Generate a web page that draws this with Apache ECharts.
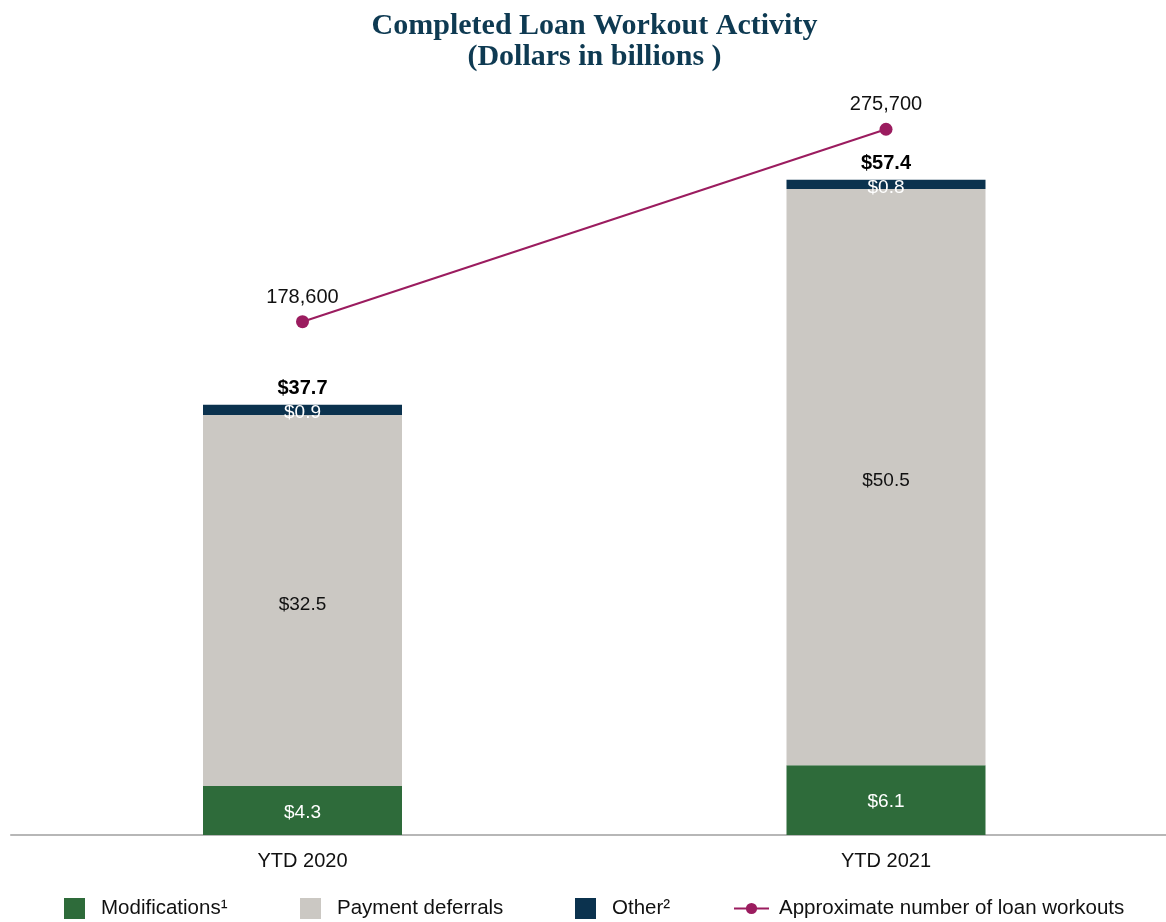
<!DOCTYPE html>
<html>
<head>
<meta charset="utf-8">
<script src="https://cdn.jsdelivr.net/npm/echarts@6/dist/echarts.min.js"></script>
<style>
  html, body { margin: 0; padding: 0; background: #fff; }
  #chart { width: 1166px; height: 922px; }
</style>
</head>
<body>
<div id="chart"></div>
<script>
var categories = ['YTD 2020', 'YTD 2021'];
var modifications = [4.3, 6.1];
var deferrals = [32.5, 50.5];
var other = [0.9, 0.8];
var totals = [37.7, 57.4];
var workouts = [178600, 275700];

var myChart = echarts.init(document.getElementById('chart'));
var font = 'Liberation Sans, Arial, sans-serif';

var option = {
  animation: false,
  title: {
    text: 'Completed Loan Workout Activity\n(Dollars in billions )',
    left: 594.5,
    textAlign: 'center',
    top: 11,
    padding: 0,
    textStyle: {
      fontFamily: 'Liberation Serif, Times New Roman, serif',
      fontWeight: 'bold',
      fontSize: 30,
      lineHeight: 31,
      color: '#0e3a52',
    },
  },
  legend: [
    { data: ['Modifications¹'], left: 64, icon: 'rect', gap: 11 },
    { data: ['Payment deferrals'], left: 300, icon: 'rect', gap: 11 },
    { data: ['Other²'], left: 575, icon: 'rect', gap: 11 },
    { data: ['Approximate number of loan workouts'], left: 733, itemWidth: 35, itemHeight: 14, gap: 5 },
  ].map(function (l) {
    var gap = l.gap;
    delete l.gap;
    return Object.assign({
      top: 898,
      padding: 0,
      itemWidth: 21,
      itemHeight: 21,
      textStyle: { fontFamily: font, fontSize: 20.5, color: '#111', padding: [0, 0, 0, gap] },
    }, l);
  }),
  grid: {
    left: 10.75,
    width: 1167,
    top: 93,
    bottom: 87,
    outerBoundsMode: 'none',
  },
  xAxis: {
    type: 'category',
    data: categories,
    axisLine: { lineStyle: { color: '#a0a0a0', width: 1.5 } },
    axisTick: { show: false },
    axisLabel: { fontFamily: font, fontSize: 20, color: '#111', margin: 16 },
  },
  yAxis: [
    { type: 'value', min: 0, max: 65, show: false, splitLine: { show: false } },
    { type: 'value', min: -80400, max: 294000, show: false, splitLine: { show: false } },
  ],
  series: [
    {
      name: 'Modifications¹',
      type: 'bar',
      stack: 'total',
      barWidth: 199,
      barGap: '-100%',
      data: modifications,
      itemStyle: { color: '#2e6b3a' },
      label: {
        show: true,
        position: 'inside',
        offset: [0, 2],
        fontFamily: font,
        fontSize: 19,
        color: '#fff',
        formatter: function (p) { return '$' + p.value.toFixed(1); },
      },
    },
    {
      name: 'Payment deferrals',
      type: 'bar',
      stack: 'total',
      barWidth: 199,
      barGap: '-100%',
      data: deferrals,
      itemStyle: { color: '#cbc8c3' },
      label: {
        show: true,
        position: 'inside',
        offset: [0, 4],
        fontFamily: font,
        fontSize: 19,
        color: '#111',
        formatter: function (p) { return '$' + p.value.toFixed(1); },
      },
    },
    {
      name: 'Other²',
      type: 'bar',
      stack: 'total',
      barWidth: 199,
      barGap: '-100%',
      data: other,
      itemStyle: { color: '#0b324e' },
      label: {
        show: true,
        position: 'inside',
        offset: [0, 3],
        fontFamily: font,
        fontSize: 19,
        color: '#fff',
        formatter: function (p) { return '$' + p.value.toFixed(1); },
      },
    },
    {
      name: 'Total',
      type: 'bar',
      barWidth: 199,
      barGap: '-100%',
      z: 0,
      data: totals,
      itemStyle: { color: 'transparent' },
      silent: true,
      label: {
        show: true,
        position: 'top',
        distance: 6,
        fontFamily: font,
        fontSize: 20,
        fontWeight: 'bold',
        color: '#000',
        formatter: function (p) { return '$' + p.value.toFixed(1); },
      },
    },
    {
      name: 'Approximate number of loan workouts',
      type: 'line',
      yAxisIndex: 1,
      data: workouts,
      symbol: 'circle',
      symbolSize: 13,
      itemStyle: { color: '#9b1c5f' },
      lineStyle: { color: '#9b1c5f', width: 2 },
      label: {
        show: true,
        position: 'top',
        distance: 8,
        fontFamily: font,
        fontSize: 20,
        color: '#111',
        formatter: function (p) { return p.value.toLocaleString('en-US'); },
      },
    },
  ],
};

myChart.setOption(option);
</script>
</body>
</html>
